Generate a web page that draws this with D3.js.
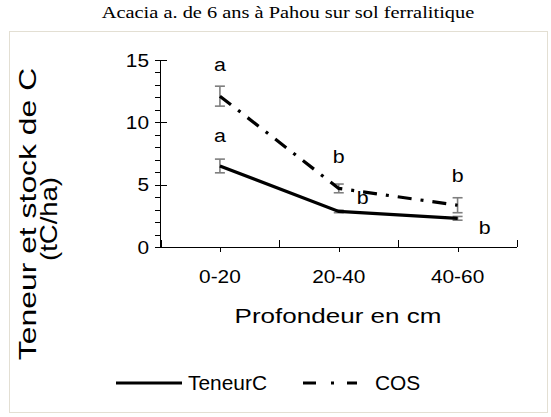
<!DOCTYPE html>
<html>
<head>
<meta charset="utf-8">
<script src="https://cdn.jsdelivr.net/npm/d3@7"></script>
<style>
  body { margin: 0; background: #fff; }
  svg text { font-family: "Liberation Sans", Arial, sans-serif; fill: #000; }
</style>
</head>
<body>
<div id="chart"></div>
<script>
// data
var depths = ["0-20", "20-40", "40-60"];
var teneurC = [6.5, 2.85, 2.3];
var teneurErr = [0.55, 0.1, 0.15];
var cos = [12.1, 4.7, 3.35];
var cosErr = [0.8, 0.35, 0.6];
var teneurLetters = ["a", "b", "b"];
var cosLetters = ["a", "b", "b"];
var yTicks = [0, 5, 10, 15];

var width = 551,
    height = 417;

var svg = d3.select("#chart").append("svg")
    .attr("width", width)
    .attr("height", height);

// chart area frame
svg.append("rect")
    .attr("x", 9.5).attr("y", 31.5)
    .attr("width", 538).attr("height", 381)
    .attr("fill", "#fff")
    .attr("stroke", "#e3dfd3");

svg.append("text")
    .attr("transform", "translate(288,18) scale(1.2,1)")
    .attr("text-anchor", "middle")
    .style("font-family", "'Liberation Serif', 'Times New Roman', serif")
    .style("font-size", "17px")
    .text("Acacia a. de 6 ans à Pahou sur sol ferralitique");

var x = d3.scaleBand().domain(depths).range([160.5, 517]);
var y = d3.scaleLinear().domain([0, 15]).range([247, 60]);
var cx = function(i) { return x(depths[i]) + x.bandwidth() / 2; };

// text that is a bit wider than the font, as in the picture
function wideText(g, tx, ty, size, sx, anchor, str) {
  return g.append("text")
    .attr("transform", "translate(" + tx + "," + ty + ") scale(" + sx + ",1)")
    .attr("text-anchor", anchor)
    .style("font-size", size + "px")
    .text(str);
}

// y axis: minor ticks every unit outside, major ticks crossing
var yg = svg.append("g");
yg.selectAll(".minor")
  .data(d3.range(0, 16))
  .enter().append("line")
    .attr("x1", 155).attr("x2", 160.5)
    .attr("y1", function(d) { return Math.round(y(d)) + 0.5; })
    .attr("y2", function(d) { return Math.round(y(d)) + 0.5; })
    .attr("stroke", "#000");
yg.selectAll(".major")
  .data(yTicks)
  .enter().append("line")
    .attr("x1", 155).attr("x2", 167)
    .attr("y1", function(d) { return Math.round(y(d)) + 0.5; })
    .attr("y2", function(d) { return Math.round(y(d)) + 0.5; })
    .attr("stroke", "#000");
yg.append("line")
    .attr("x1", 160.5).attr("x2", 160.5)
    .attr("y1", y(15)).attr("y2", y(0))
    .attr("stroke", "#000");
yTicks.forEach(function(d) {
  wideText(yg, 149, y(d) + 6.5, 18.6, 1.12, "end", d);
});

// x axis
var xg = svg.append("g");
xg.append("line")
    .attr("x1", 160.5).attr("x2", 517)
    .attr("y1", Math.round(y(0)) + 0.5).attr("y2", Math.round(y(0)) + 0.5)
    .attr("stroke", "#000");
var edges = depths.map(function(d) { return x(d); }).concat([x.range()[1]]);
xg.selectAll(".edge")
  .data(edges)
  .enter().append("line")
    .attr("x1", function(d) { return Math.round(d) + 0.5; })
    .attr("x2", function(d) { return Math.round(d) + 0.5; })
    .attr("y1", y(0) - 7).attr("y2", y(0))
    .attr("stroke", "#000");
xg.selectAll(".mid")
  .data(depths)
  .enter().append("line")
    .attr("x1", function(d, i) { return Math.round(cx(i)) + 0.5; })
    .attr("x2", function(d, i) { return Math.round(cx(i)) + 0.5; })
    .attr("y1", y(0)).attr("y2", y(0) + 5)
    .attr("stroke", "#000");
depths.forEach(function(d, i) {
  wideText(xg, cx(i), 283, 18.6, 1.12, "middle", d);
});

wideText(svg, 338, 323, 21, 1.24, "middle", "Profondeur en cm");

// y axis title, two lines (stretched along the text)
svg.append("text")
    .attr("transform", "translate(36,214) rotate(-90) scale(1.45,1.08)")
    .attr("text-anchor", "middle")
    .style("font-size", "22px")
    .text("Teneur et stock de C");
svg.append("text")
    .attr("transform", "translate(57,219) rotate(-90) scale(1.25,1.08)")
    .attr("text-anchor", "middle")
    .style("font-size", "22px")
    .text("(tC/ha)");

// error bars
function errorBars(vals, errs) {
  var g = svg.append("g").attr("stroke", "#7f7f7f").attr("stroke-width", 1.6);
  vals.forEach(function(v, i) {
    var top = y(v + errs[i]), bot = y(v - errs[i]), c = cx(i);
    g.append("line").attr("x1", c).attr("x2", c).attr("y1", top).attr("y2", bot);
    g.append("line").attr("x1", c - 5).attr("x2", c + 5).attr("y1", top).attr("y2", top);
    g.append("line").attr("x1", c - 5).attr("x2", c + 5).attr("y1", bot).attr("y2", bot);
  });
}
errorBars(teneurC, teneurErr);
errorBars(cos, cosErr);

var line = d3.line()
    .x(function(d, i) { return cx(i); })
    .y(function(d) { return y(d); });

svg.append("path")
    .datum(teneurC)
    .attr("d", line)
    .attr("fill", "none")
    .attr("stroke", "#000")
    .attr("stroke-width", 3.2);

svg.append("path")
    .datum(cos)
    .attr("d", line)
    .attr("fill", "none")
    .attr("stroke", "#000")
    .attr("stroke-width", 3.2)
    .attr("stroke-dasharray", "14,9,3,9");

// significance letters (offsets from the point, in px)
var cosDx = [0, 0, 0], cosDy = [-25, -25, -23];
var tenDx = [0, 24, 27], tenDy = [-24, -7, 16];
cos.forEach(function(v, i) {
  wideText(svg, cx(i) + cosDx[i], y(v) + cosDy[i], 18.6, 1.15, "middle", cosLetters[i]);
});
teneurC.forEach(function(v, i) {
  wideText(svg, cx(i) + tenDx[i], y(v) + tenDy[i], 18.6, 1.15, "middle", teneurLetters[i]);
});

// legend
var lg = svg.append("g");
lg.append("line")
    .attr("x1", 116).attr("x2", 182)
    .attr("y1", 383).attr("y2", 383)
    .attr("stroke", "#000").attr("stroke-width", 3.2);
wideText(lg, 188, 390, 20.5, 1.02, "start", "TeneurC");
lg.append("line")
    .attr("x1", 303).attr("x2", 357)
    .attr("y1", 383).attr("y2", 383)
    .attr("stroke", "#000").attr("stroke-width", 3.2)
    .attr("stroke-dasharray", "13,15,3,13");
wideText(lg, 375, 390, 20.5, 1.02, "start", "COS");
</script>
</body>
</html>
